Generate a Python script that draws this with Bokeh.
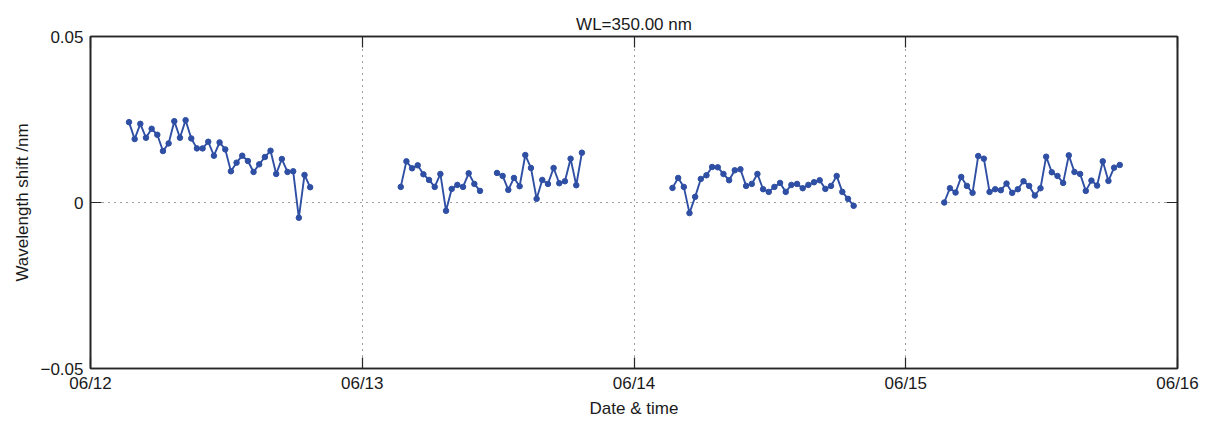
import numpy as np
from datetime import datetime, timedelta
from bokeh.plotting import figure
from bokeh.models import (ColumnDataSource, Range1d, FixedTicker, DatetimeTickFormatter,
                          LinearAxis, DatetimeAxis)
from bokeh.embed import file_html
from bokeh.resources import INLINE

# ---- data ----
title_text = "WL=350.00 nm"
x_label = "Date & time"
y_label = "Wavelength shift /nm"
day_labels = ["06/12", "06/13", "06/14", "06/15", "06/16"]
y_tick_values = [-0.05, 0.0, 0.05]
y_tick_labels = ["\u22120.05", "0", "0.05"]

start_hour = 3.4          # first sample of each day (hours)
step_hours = 0.5          # sampling interval (hours)

day1 = [0.0242, 0.0191, 0.0237, 0.0195, 0.0222, 0.0204, 0.0155, 0.0178, 0.0245, 0.0195,
        0.0248, 0.0193, 0.0163, 0.0163, 0.0183, 0.0141, 0.0181, 0.0160, 0.0094, 0.0120,
        0.0141, 0.0125, 0.0092, 0.0115, 0.0137, 0.0156, 0.0086, 0.0131, 0.0092, 0.0094,
        -0.0046, 0.0083, 0.0046]
day2 = [0.0047, 0.0124, 0.0103, 0.0112, 0.0085, 0.0068, 0.0047, 0.0086, -0.0025, 0.0041,
        0.0053, 0.0047, 0.0088, 0.0056, 0.0035, None, None, 0.0089, 0.0080, 0.0038,
        0.0074, 0.0049, 0.0143, 0.0104, 0.0011, 0.0068, 0.0056, 0.0104, 0.0058, 0.0064,
        0.0132, 0.0052, 0.0150]
day3 = [0.0044, 0.0074, 0.0047, -0.0032, 0.0017, 0.0071, 0.0082, 0.0107, 0.0106, 0.0086,
        0.0067, 0.0097, 0.0100, 0.0050, 0.0056, 0.0086, 0.0040, 0.0032, 0.0047, 0.0059,
        0.0032, 0.0053, 0.0056, 0.0043, 0.0053, 0.0061, 0.0067, 0.0041, 0.0050, 0.0080,
        0.0032, 0.0011, -0.0010]
day4 = [0.0000, 0.0043, 0.0030, 0.0077, 0.0050, 0.0029, 0.0140, 0.0132, 0.0032, 0.0040,
        0.0037, 0.0057, 0.0029, 0.0040, 0.0064, 0.0050, 0.0021, 0.0043, 0.0138, 0.0091,
        0.0080, 0.0059, 0.0142, 0.0092, 0.0086, 0.0035, 0.0066, 0.0051, 0.0124, 0.0065,
        0.0105, 0.0113]
days = [day1, day2, day3, day4]

base = datetime(2013, 6, 12)
xs, ys = [], []
for d, vals in enumerate(days):
    for i, v in enumerate(vals):
        xs.append(base + timedelta(days=d, hours=start_hour + step_hours * i))
        ys.append(np.nan if v is None else v)
    xs.append(base + timedelta(days=d, hours=23))
    ys.append(np.nan)

src = ColumnDataSource(dict(x=xs, y=ys))

day_ticks = [(base + timedelta(days=k) - datetime(1970, 1, 1)).total_seconds() * 1000.0
             for k in range(len(day_labels))]

FONT = "Liberation Sans"
FS = "17px"
TXT = "#1a1a1a"
AX = "#262626"
BLUE = "#2e4fa3"

p = figure(width=1205, height=420, x_axis_type="datetime",
           x_range=Range1d(day_ticks[0], day_ticks[-1]),
           y_range=Range1d(-0.05, 0.05),
           output_backend="svg", toolbar_location=None,
           min_border_left=90, min_border_right=28, min_border_top=36, min_border_bottom=51)
p.background_fill_color = "white"
p.border_fill_color = "white"
p.outline_line_color = AX
p.outline_line_width = 1.6

p.title.text = title_text
p.title.align = "center"
p.title.text_font = FONT
p.title.text_font_style = "normal"
p.title.text_font_size = FS
p.title.text_color = TXT
p.title.standoff = 6

xt = FixedTicker(ticks=day_ticks)
yt = FixedTicker(ticks=y_tick_values)

xa = p.xaxis[0]
xa.ticker = xt
xa.formatter = DatetimeTickFormatter(hours="%m/%d", days="%m/%d", months="%m/%d", years="%m/%d")
xa.major_label_overrides = {t: l for t, l in zip(day_ticks, day_labels)}
xa.axis_label = x_label

ya = p.yaxis[0]
ya.ticker = yt
ya.major_label_overrides = {t: l for t, l in zip(y_tick_values, y_tick_labels)}
ya.axis_label = y_label

for ax in (xa, ya):
    ax.axis_line_color = AX
    ax.axis_line_width = 1.6
    ax.major_tick_in = 11
    ax.major_tick_out = 0
    ax.major_tick_line_color = AX
    ax.major_tick_line_width = 1.2
    ax.minor_tick_line_color = None
    ax.major_label_text_font = FONT
    ax.major_label_text_font_size = FS
    ax.major_label_text_color = TXT
    ax.axis_label_text_font = FONT
    ax.axis_label_text_font_size = FS
    ax.axis_label_text_font_style = "normal"
    ax.axis_label_text_color = TXT
xa.major_label_standoff = 5
xa.axis_label_standoff = 3
ya.major_label_standoff = 7
ya.axis_label_standoff = 5

# box axes (top/right) with inward ticks, no labels
top = DatetimeAxis(ticker=xt, major_label_overrides={t: "" for t in day_ticks})
right = LinearAxis(ticker=yt, major_label_overrides={t: "" for t in y_tick_values})
for ax in (top, right):
    ax.axis_line_color = AX
    ax.axis_line_width = 1.6
    ax.major_tick_in = 11
    ax.major_tick_out = 0
    ax.major_tick_line_color = AX
    ax.major_tick_line_width = 1.2
    ax.minor_tick_line_color = None
    ax.major_label_standoff = 0
    ax.major_label_text_font_size = "1px"
p.add_layout(top, "above")
p.add_layout(right, "right")

p.xgrid.ticker = xt
p.ygrid.ticker = yt
for g in (p.xgrid, p.ygrid):
    g.grid_line_color = "#404040"
    g.grid_line_dash = "1 5"
    g.grid_line_width = 1

p.line("x", "y", source=src, line_color=BLUE, line_width=1.9)
p.scatter("x", "y", source=src, size=5.5, fill_color=BLUE, line_color=BLUE)

open("out.html", "w").write(file_html(p, INLINE))
